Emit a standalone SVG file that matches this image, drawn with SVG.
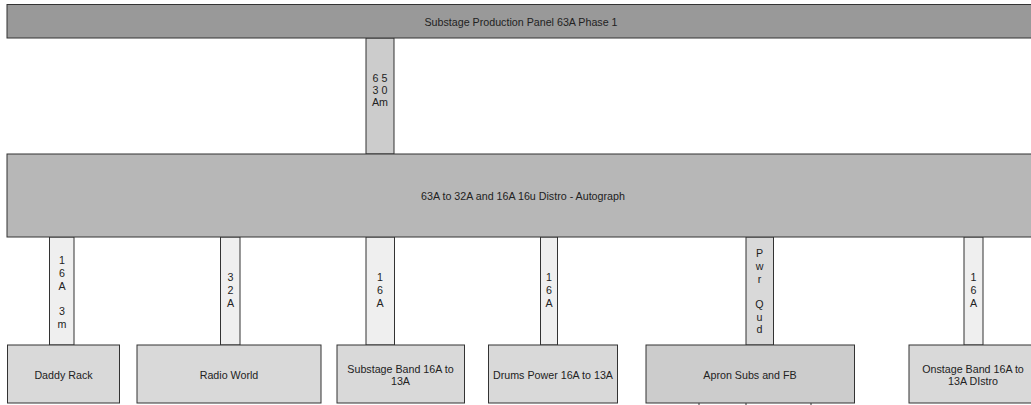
<svg xmlns="http://www.w3.org/2000/svg" width="1031" height="405" viewBox="0 0 1031 405">
<style>
text{font-family:"Liberation Sans",Arial,sans-serif;font-size:10.7px;fill:#222;text-anchor:middle}
.n{stroke:#333;stroke-width:1}
.c{stroke:#333;stroke-width:1}
</style>
<rect width="1031" height="405" fill="#fff"/>
<g id="connectors">
<rect class="c" x="366" y="38" width="28" height="116" fill="#cccccc"/>
<text x="380" y="81.5">6 5</text><text x="380" y="93.5">3 0</text><text x="380" y="106">Am</text>
<rect class="c" x="49.5" y="237" width="24.5" height="108" fill="#efefef"/>
<text x="62" y="264">1</text><text x="62" y="276.8">6</text><text x="62" y="289.6">A</text><text x="62" y="315">3</text><text x="62" y="327.8">m</text>
<rect class="c" x="220.5" y="237" width="19.5" height="108" fill="#efefef"/>
<text x="230.5" y="281">3</text><text x="230.5" y="294">2</text><text x="230.5" y="307">A</text>
<rect class="c" x="366" y="237" width="28.5" height="108" fill="#efefef"/>
<text x="380" y="281">1</text><text x="380" y="294">6</text><text x="380" y="307">A</text>
<rect class="c" x="540.5" y="237" width="17" height="108" fill="#efefef"/>
<text x="549" y="281">1</text><text x="549" y="294">6</text><text x="549" y="307">A</text>
<rect class="c" x="746" y="237" width="27.5" height="108" fill="#d9d9d9"/>
<text x="759.5" y="257">P</text><text x="759.5" y="270">w</text><text x="759.5" y="283">r</text><text x="759.5" y="308">Q</text><text x="759.5" y="320.5">u</text><text x="759.5" y="333">d</text>
<rect class="c" x="964" y="237" width="19" height="108" fill="#efefef"/>
<text x="973.5" y="281">1</text><text x="973.5" y="294">6</text><text x="973.5" y="307">A</text>
<path d="M699 403V406M746 403V406M811 403V406" stroke="#333" stroke-width="1" fill="none"/>
</g>
<g id="panel">
<rect class="n" x="7" y="4.5" width="1030" height="33.5" fill="#999999"/>
<text x="521" y="25.5">Substage Production Panel 63A Phase 1</text>
</g>
<g id="distro">
<rect class="n" x="7" y="154" width="1030" height="83" fill="#b7b7b7"/>
<text x="523" y="199.5">63A to 32A and 16A 16u Distro - Autograph</text>
</g>
<g id="daddy-rack">
<rect class="n" x="7.5" y="345" width="112" height="58" fill="#d9d9d9"/>
<text x="63.5" y="379">Daddy Rack</text>
</g>
<g id="radio-world">
<rect class="n" x="137" y="345" width="184" height="58" fill="#d9d9d9"/>
<text x="229" y="379">Radio World</text>
</g>
<g id="substage-band">
<rect class="n" x="337" y="345" width="127.5" height="58" fill="#d9d9d9"/>
<text x="400.5" y="373">Substage Band 16A to</text><text x="400.5" y="385">13A</text>
</g>
<g id="drums-power">
<rect class="n" x="488.5" y="345" width="129" height="58" fill="#d9d9d9"/>
<text x="553" y="379">Drums Power 16A to 13A</text>
</g>
<g id="apron-subs">
<rect class="n" x="646" y="345" width="208.5" height="58" fill="#cccccc"/>
<text x="750" y="379">Apron Subs and FB</text>
</g>
<g id="onstage-band">
<rect class="n" x="909" y="345" width="128" height="58" fill="#d9d9d9"/>
<text x="973" y="373">Onstage Band 16A to</text><text x="973" y="385">13A DIstro</text>
</g>
</svg>
